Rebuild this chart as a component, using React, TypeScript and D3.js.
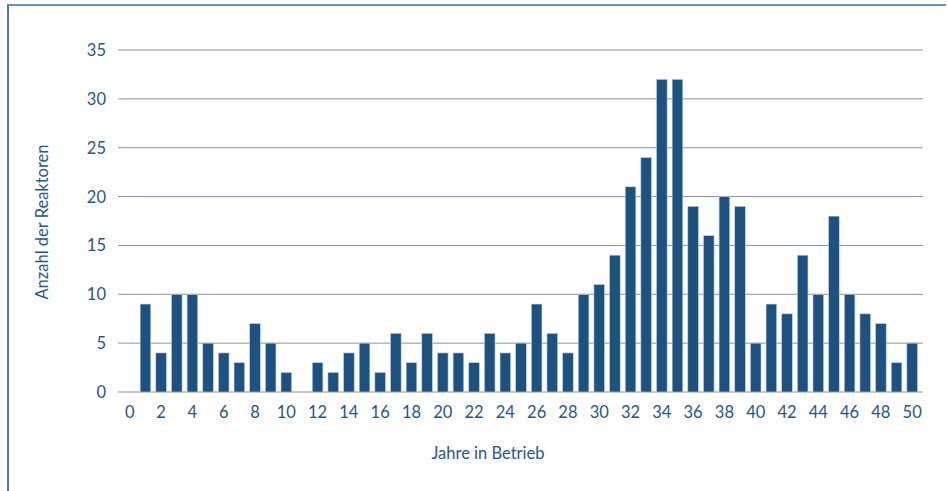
import React from "react";
import * as d3 from "d3";

const years: number[] = Array.from({ length: 51 }, (_, i) => i);
const counts: number[] = [
  0, 9, 4, 10, 10, 5, 4, 3, 7, 5, 2, 0, 3, 2, 4, 5, 2, 6, 3, 6, 4, 4, 3, 6, 4, 5,
  9, 6, 4, 10, 11, 14, 21, 24, 32, 32, 19, 16, 20, 19, 5, 9, 8, 14, 10, 18, 10, 8,
  7, 3, 5,
];
const yTicks: number[] = [0, 5, 10, 15, 20, 25, 30, 35];
const xTickLabels: number[] = years.filter((y) => y % 2 === 0);
const xTitle = "Jahre in Betrieb";
const yTitle = "Anzahl der Reaktoren";

const W = 948;
const H = 491;
const left = 122;
const right = 920;
const top = 50;
const bottom = 392;
const textColor = "#24578A";
const barColor = "#1B5282";
const gridColor = "#8393AB";
const font = "Lato, 'Open Sans', sans-serif";

export default function App() {
  const x = d3
    .scaleBand<number>()
    .domain(years)
    .range([left, right])
    .paddingInner(0.32)
    .paddingOuter(0.16);
  const y = d3.scaleLinear().domain([0, 35]).range([bottom, top]);

  return (
    <svg
      width={W}
      height={H}
      style={{ position: "absolute", left: 0, top: 0, background: "#fff" }}
    >
      <line x1={7} x2={946} y1={5} y2={5} stroke="#6E8FBF" strokeWidth={2} />
      <line x1={8} x2={8} y1={5} y2={H} stroke="#4F7BB5" strokeWidth={2} />
      {yTicks.map((t) => (
        <g key={t}>
          <line
            x1={118}
            x2={923}
            y1={y(t)}
            y2={y(t)}
            stroke={gridColor}
            strokeWidth={1}
          />
          <text
            x={106}
            y={y(t)}
            dy="0.36em"
            textAnchor="end"
            fill={textColor}
            fontSize={16.5}
            fontFamily={font}
          >
            {t}
          </text>
        </g>
      ))}
      {years.map((yr, i) =>
        counts[i] > 0 ? (
          <rect
            key={yr}
            x={x(yr)!}
            y={y(counts[i])}
            width={x.bandwidth()}
            height={y(0) - y(counts[i])}
            fill={barColor}
            stroke="#C8D3E0"
            strokeWidth={0.6}
          />
        ) : null
      )}
      {xTickLabels.map((t) => (
        <text
          key={t}
          x={x(t)! + x.bandwidth() / 2}
          y={418}
          textAnchor="middle"
          fill={textColor}
          fontSize={16.5}
          fontFamily={font}
        >
          {t}
        </text>
      ))}
      <text
        x={488}
        y={459}
        textAnchor="middle"
        fill={textColor}
        fontSize={16.5}
        fontFamily={font}
      >
        {xTitle}
      </text>
      <text
        transform={`translate(48, 222) rotate(-90)`}
        textAnchor="middle"
        fill={textColor}
        fontSize={16.5}
        fontFamily={font}
      >
        {yTitle}
      </text>
    </svg>
  );
}
